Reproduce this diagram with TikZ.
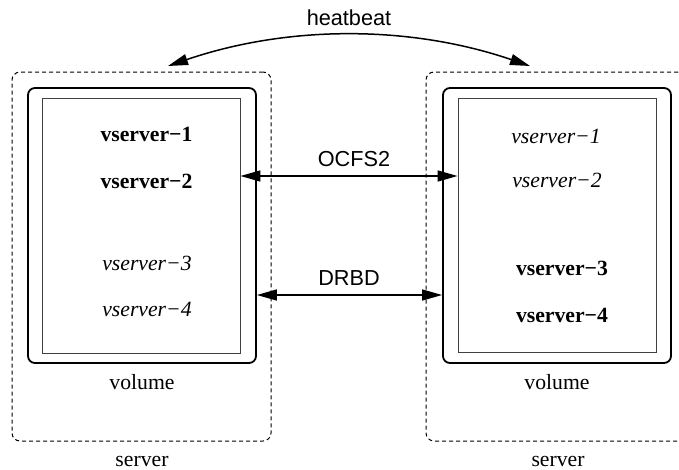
\documentclass[tikz,border=0pt]{standalone}
\usepackage{fontspec}
\setmainfont{Liberation Serif}
\newfontfamily\helv{Liberation Sans}
\usetikzlibrary{arrows.meta}
\begin{document}
\begin{tikzpicture}[x=1pt,y=-1pt,
  serverbox/.style={draw, line width=1pt, dash pattern=on 4pt off 3pt, rounded corners=8pt, inner sep=0pt},
  volbox/.style={draw, line width=1.8pt, rounded corners=7pt, inner sep=0pt},
  innerbox/.style={draw=black!75, line width=0.9pt, inner sep=0pt},
  lbl/.style={font=\fontsize{21.7}{26}\selectfont, anchor=base, inner sep=0pt},
  arrlbl/.style={font=\helv\fontsize{21.7}{26}\selectfont, anchor=base, inner sep=0pt},
  link/.style={line width=1.5pt, {Triangle[length=20pt,width=11pt]}-{Triangle[length=20pt,width=11pt]}}
]
\useasboundingbox (0,0) rectangle (679,469);
\clip (0,0) rectangle (679,469);
% servers
\node[serverbox, minimum width=259pt, minimum height=369pt] (lserver) at (141.5,256.5) {};
\node[serverbox, minimum width=260pt, minimum height=369pt] (rserver) at (556,256.5) {};
% volumes
\node[volbox, minimum width=228pt, minimum height=275pt] (lvol) at (142,225.5) {};
\node[volbox, minimum width=228pt, minimum height=275pt] (rvol) at (557,225.5) {};
\node[innerbox, minimum width=198pt, minimum height=255pt] (linner) at (141,225.5) {};
\node[innerbox, minimum width=198pt, minimum height=254pt] (rinner) at (557,225) {};
% left texts
\node[lbl] (l1) at (146.5,141) {\bfseries vserver−1};
\node[lbl] (l2) at (146.5,188) {\bfseries vserver−2};
\node[lbl] (l3) at (147,270) {\itshape vserver−3};
\node[lbl] (l4) at (147,316) {\itshape vserver−4};
% right texts
\node[lbl] (r1) at (556,143) {\itshape vserver−1};
\node[lbl] (r2) at (557,187) {\itshape vserver−2};
\node[lbl] (r3) at (562,275) {\bfseries vserver−3};
\node[lbl] (r4) at (562,322) {\bfseries vserver−4};
% captions
\node[lbl] (lvlab) at (142,389) {volume};
\node[lbl] (rvlab) at (557,389) {volume};
\node[lbl] (lslab) at (142,466) {server};
\node[lbl] (rslab) at (558,466) {server};
% connector labels
\node[arrlbl] (hb) at (349,25) {heatbeat};
\node[arrlbl] (ocfs) at (354,166) {OCFS2};
\node[arrlbl] (drbd) at (349,285) {DRBD};
% connectors
\draw[link] ([yshift=49.5pt]linner.east) -- ([yshift=49pt]rinner.west);
\draw[link] ([yshift=-69.5pt]lvol.east) -- ([yshift=-69.5pt]rvol.west);
\coordinate (hbl) at (168,66);
\coordinate (hbr) at (530,66);
\draw[link] (hbl) .. controls (288,25) and (410,25) .. (hbr);
\end{tikzpicture}
\end{document}
